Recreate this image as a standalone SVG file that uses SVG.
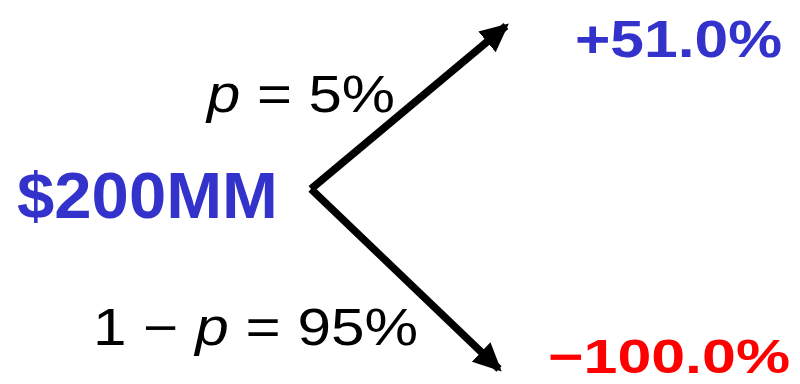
<svg xmlns="http://www.w3.org/2000/svg" width="800" height="384" viewBox="0 0 800 384">
<style>
text{font-family:"Liberation Sans","Open Sans",sans-serif}
.b{font-weight:bold}
.blue{fill:#3333CC}
.red{fill:#FF0000}
.blk{fill:#000}
.c{stroke:#000;stroke-width:7.5;fill:none}
</style>
<defs>
<marker id="ah" markerWidth="3.8" markerHeight="3.6" refX="3.3" refY="1.8" orient="auto" markerUnits="strokeWidth">
<path d="M0,0 L3.8,1.8 L0,3.6 z" fill="#000"/>
</marker>
</defs>
<rect width="800" height="384" fill="#fff"/>
<g id="connectors">
<path class="c" d="M311,189 L506,26" marker-end="url(#ah)"/>
<path class="c" d="M311,189 L499,369" marker-end="url(#ah)"/>
</g>
<g id="start"><text class="b blue" x="17" y="218" font-size="64" textLength="261" lengthAdjust="spacingAndGlyphs">$200MM</text></g>
<g id="up-label"><text class="blk" x="207" y="112" font-size="51" textLength="188" lengthAdjust="spacingAndGlyphs"><tspan font-style="italic">p</tspan> = 5%</text></g>
<g id="down-label"><text class="blk" x="93" y="345" font-size="51" textLength="325" lengthAdjust="spacingAndGlyphs">1 − <tspan font-style="italic">p</tspan> = 95%</text></g>
<g id="up"><text class="b blue" x="575" y="57" font-size="52" textLength="207" lengthAdjust="spacingAndGlyphs">+51.0%</text></g>
<g id="down"><text class="b red" x="548" y="373" font-size="48" textLength="242" lengthAdjust="spacingAndGlyphs">−100.0%</text></g>
</svg>
